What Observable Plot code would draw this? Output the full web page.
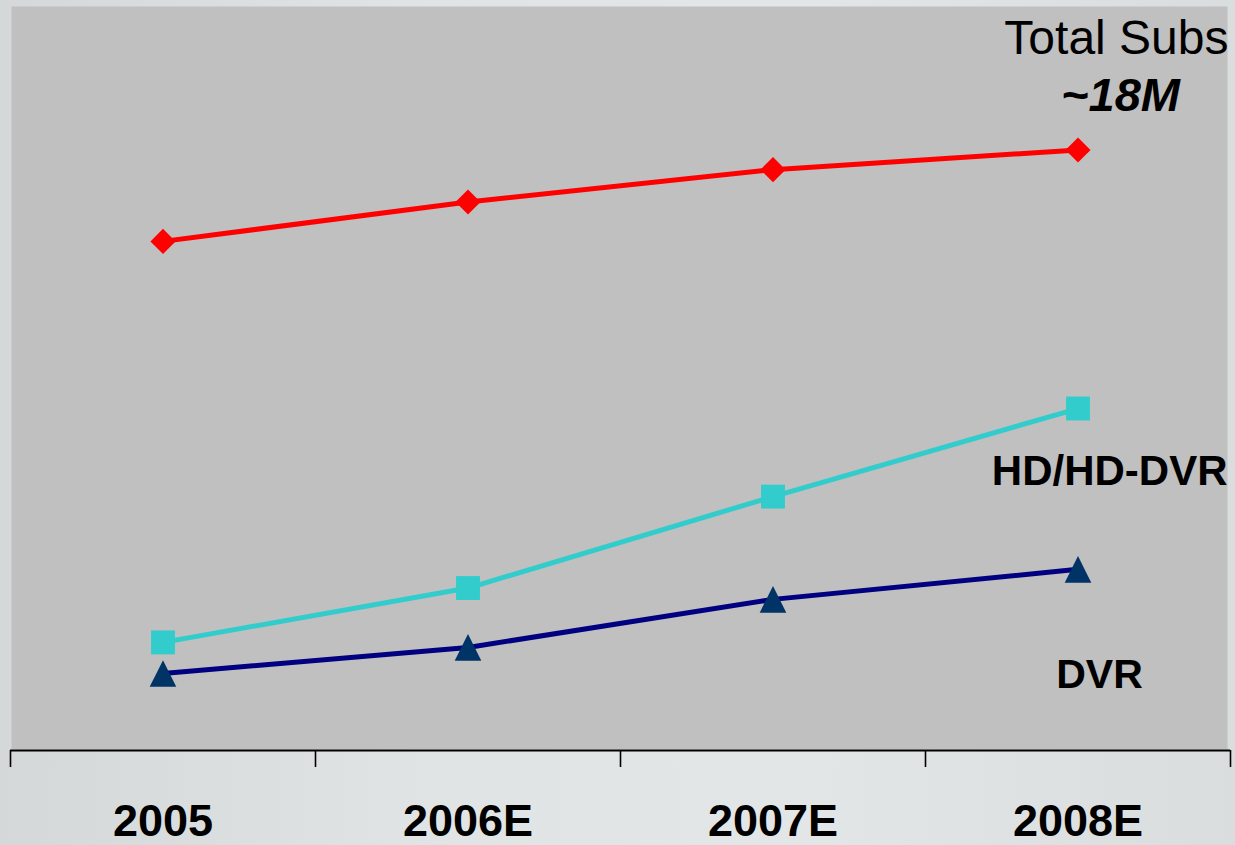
<!DOCTYPE html>
<html>
<head>
<meta charset="utf-8">
<script src="https://cdn.jsdelivr.net/npm/d3@7"></script>
<script src="https://cdn.jsdelivr.net/npm/@observablehq/plot@0.6"></script>
<style>
  html, body { margin: 0; padding: 0; }
  body {
    width: 1235px; height: 845px; overflow: hidden;
    background: linear-gradient(90deg, #d5d8d8 0%, #e1e4e4 35%, #e3e6e6 65%, #dadddd 100%);
  }
  #chart svg { display: block; }
</style>
</head>
<body>
<div id="chart"></div>
<script>
// Subscribers (millions) by year
const years = ["2005", "2006E", "2007E", "2008E"];
const totalSubs = [15.26, 16.44, 17.41, 18.0];
const hdSubs = [3.24, 4.87, 7.61, 10.25];
const dvrSubs = [2.31, 3.09, 4.53, 5.43];

const rows = (values, series) => values.map((value, i) => ({year: years[i], value, series}));
const total = rows(totalSubs, "Total Subs");
const hd = rows(hdSubs, "HD/HD-DVR");
const dvr = rows(dvrSubs, "DVR");

// each year sits in the middle of its own slot on the x axis
const xPos = d => years.indexOf(d.year) + 0.5;

// triangle whose bounding box (not centroid) is centred on the point
const boxTriangle = {
  draw(context, size) {
    const h = Math.sqrt(size) / 2;
    context.moveTo(0, -h);
    context.lineTo(h, h);
    context.lineTo(-h, h);
    context.closePath();
  }
};

const font = "'Liberation Sans', Arial, Helvetica, sans-serif";

const chart = Plot.plot({
  width: 1235,
  height: 845,
  marginLeft: 10,
  marginRight: 5,
  marginTop: 6,
  marginBottom: 95,
  style: {background: "transparent", fontFamily: font, color: "black", overflow: "visible"},
  x: {type: "linear", domain: [0, years.length]},
  y: {domain: [0, 22.3], axis: null},
  marks: [
    Plot.frame({fill: "#c0c0c0", insetLeft: 1, insetRight: 3, insetBottom: 1}),
    // slot boundary ticks
    Plot.axisX(d3.range(years.length + 1), {
      tickSize: 17, tickFormat: () => "", stroke: "black", strokeWidth: 1.6, label: null
    }),
    // year labels
    Plot.axisX(years.map((_, i) => i + 0.5), {
      tickSize: 0, tickPadding: 54, tickFormat: v => years[Math.floor(v)],
      fontSize: 45, fontWeight: "bold", fill: "black", label: null
    }),
    Plot.ruleY([0], {stroke: "black", strokeWidth: 2}),
    Plot.line(total, {x: xPos, y: "value", stroke: "#ff0000", strokeWidth: 5}),
    Plot.line(hd, {x: xPos, y: "value", stroke: "#33cccc", strokeWidth: 5}),
    Plot.line(dvr, {x: xPos, y: "value", stroke: "#000080", strokeWidth: 5}),
    Plot.dot(total, {x: xPos, y: "value", symbol: d3.symbolDiamond2, r: 11.3, fill: "#ff0000"}),
    Plot.dot(hd, {x: xPos, y: "value", symbol: "square", r: 13.5, fill: "#33cccc"}),
    Plot.dot(dvr, {x: xPos, y: "value", symbol: boxTriangle, r: 15, fill: "#003366"}),
    Plot.text(["Total Subs"], {
      frameAnchor: "top-right", textAnchor: "end", dx: -2, dy: 13,
      fontSize: 48, fill: "black"
    }),
    Plot.text(["~18M"], {
      frameAnchor: "top-right", textAnchor: "middle", dx: -110, dy: 71,
      fontSize: 47, fontWeight: "bold", fontStyle: "italic", fill: "black"
    }),
    Plot.text(["HD/HD-DVR"], {
      frameAnchor: "top-right", textAnchor: "end", dx: -3, dy: 449,
      fontSize: 42, fontWeight: "bold", fill: "black"
    }),
    Plot.text(["DVR"], {
      frameAnchor: "top-right", textAnchor: "middle", dx: -131, dy: 652,
      fontSize: 41, fontWeight: "bold", fill: "black"
    })
  ]
});

document.getElementById("chart").append(chart);
</script>
</body>
</html>
